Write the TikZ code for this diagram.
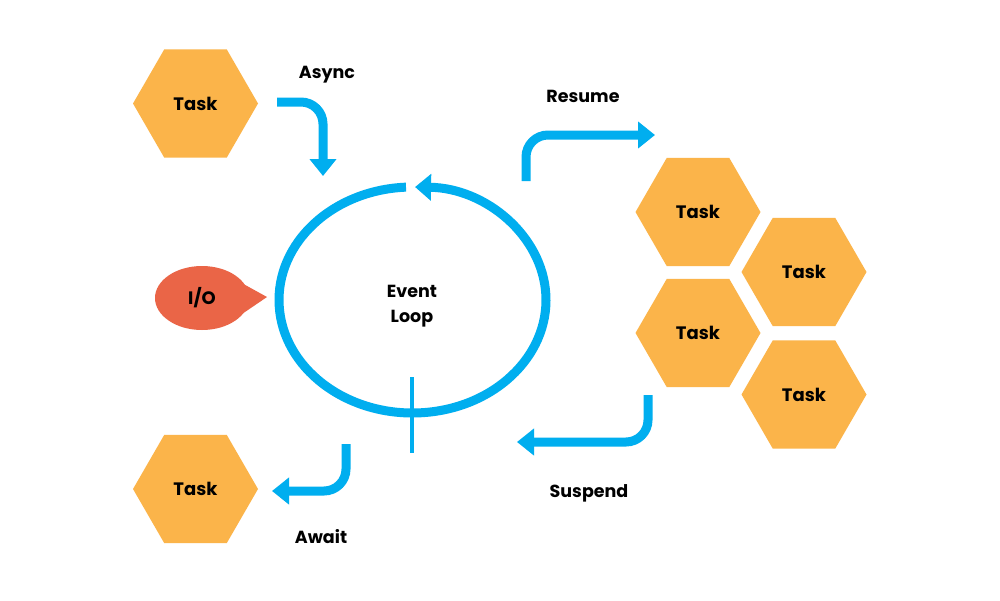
\documentclass[tikz,border=0pt]{standalone}
\usepackage{fontspec}
\setmainfont{Poppins}
\usetikzlibrary{shapes.geometric,arrows.meta}
\definecolor{taskc}{HTML}{FBB44A}
\definecolor{loopc}{HTML}{00AEEF}
\definecolor{ioc}{HTML}{EA6547}
\begin{document}
\begin{tikzpicture}[x=1pt,y=-1pt,
  task/.style={regular polygon, regular polygon sides=6, minimum size=125pt, inner sep=0pt, fill=taskc, font=\fontsize{18}{20}\selectfont\bfseries},
  flow/.style={draw=loopc, line width=9pt, rounded corners=22pt, -{Triangle[width=26pt,length=17pt]}},
  ring/.style={draw=loopc, line width=9pt, -{Triangle[width=26pt,length=16pt]}},
  lbl/.style={font=\fontsize{17.5}{20}\selectfont\bfseries, inner sep=0pt},
]
\useasboundingbox[fill=white] (0,0) rectangle (1000,600);

% tasks
\node[task] (t1) at (195.5,103.5) {Task};
\node[task] (t2) at (195.5,489) {Task};
\node[task] (r1) at (698,212) {Task};
\node[task] (r2) at (804,272) {Task};
\node[task] (r3) at (698,333) {Task};
\node[task] (r4) at (804,394.5) {Task};

% event loop
\coordinate (lc) at (412.5,300);
\node[lbl, align=center, font=\fontsize{17.5}{25}\selectfont\bfseries] (ev) at (412,306) {Event\\Loop};
\draw[ring] (lc) ++(267.2:133.5 and 113) arc[start angle=267.2, end angle=-88.9, x radius=133.5, y radius=113];
\coordinate (tk1) at (412,377);
\coordinate (tk2) at (412,453);
\draw[loopc, line width=4pt] (tk1) -- (tk2);

% I/O bubble
\fill[ioc] (238,281) -- (267,297) -- (242,314) -- cycle;
\node[ellipse, fill=ioc, minimum width=94pt, minimum height=64pt, inner sep=0pt, font=\fontsize{18}{20}\selectfont\bfseries] (io) at (202,298) {I/O};

% flows
\coordinate (as1) at (277,102);
\coordinate (as2) at (323,176);
\draw[flow] (as1) -| (as2);
\node[lbl] (asl) at (327,75) {Async};

\coordinate (rs1) at (526,181);
\coordinate (rs2) at (655,135);
\draw[flow] (rs1) |- (rs2);
\node[lbl] (rsl) at (583,96) {Resume};

\coordinate (sp1) at (648,395);
\coordinate (sp2) at (517,442);
\draw[flow] (sp1) |- (sp2);
\node[lbl] (spl) at (589,493) {Suspend};

\coordinate (aw1) at (346,444);
\coordinate (aw2) at (272,491);
\draw[flow] (aw1) |- (aw2);
\node[lbl] (awl) at (321,537) {Await};
\end{tikzpicture}
\end{document}
